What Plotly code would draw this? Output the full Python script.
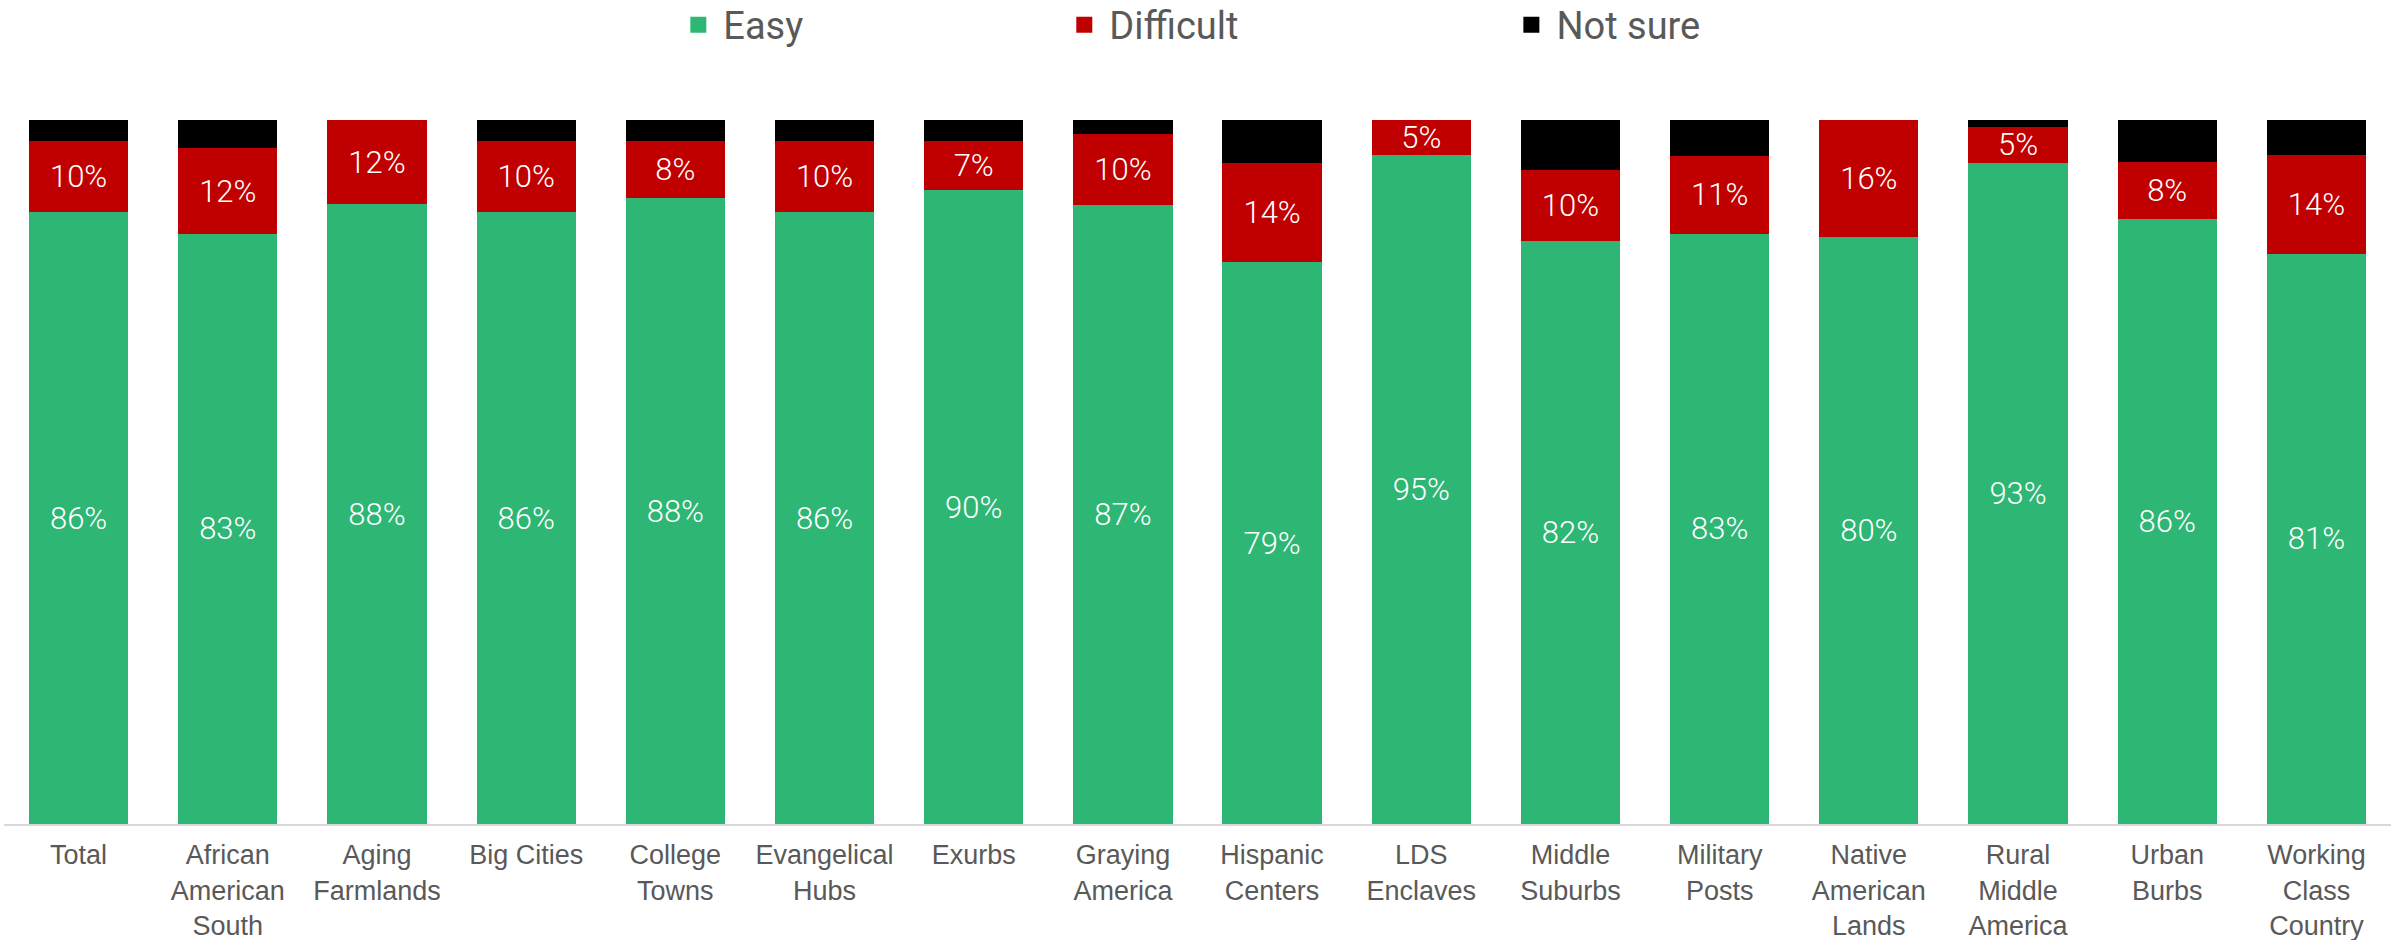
import plotly.graph_objects as go

categories = ["Total", "African<br>American<br>South", "Aging<br>Farmlands", "Big Cities",
              "College<br>Towns", "Evangelical<br>Hubs", "Exurbs", "Graying<br>America",
              "Hispanic<br>Centers", "LDS<br>Enclaves", "Middle<br>Suburbs", "Military<br>Posts",
              "Native<br>American<br>Lands", "Rural<br>Middle<br>America", "Urban<br>Burbs",
              "Working<br>Class<br>Country"]
easy = [86, 83, 88, 86, 88, 86, 90, 87, 79, 95, 82, 83, 80, 93, 86, 81]
difficult = [10, 12, 12, 10, 8, 10, 7, 10, 14, 5, 10, 11, 16, 5, 8, 14]
not_sure = [3, 4, 0, 3, 3, 3, 3, 2, 6, 0, 7, 5, 0, 1, 6, 5]

series = [("Easy", easy, "#2EB675", True),
          ("Difficult", difficult, "#C00000", True),
          ("Not sure", not_sure, "#000000", False)]
legend_ids = ["legend", "legend2", "legend3"]
legend_x = [0.2804, 0.4421, 0.6294]

fig = go.Figure()
for name, vals, color, show_text in series:
    fig.add_trace(go.Bar(
        x=categories, y=vals, name=name,
        marker=dict(color=color, line=dict(width=0)),
        text=[f"{v}%" for v in vals] if show_text else None,
        textposition="inside" if show_text else "none",
        insidetextanchor="middle",
        constraintext="none",
        textfont=dict(family="Roboto", size=31, color="white", weight=300),
        showlegend=False,
    ))
for (name, vals, color, show_text), lg in zip(series, legend_ids):
    # legend entry with a square swatch, one legend box per series
    fig.add_trace(go.Scatter(
        x=[None], y=[None], mode="markers", name=name,
        marker=dict(symbol="square", size=24, color=color),
        showlegend=True, legend=lg,
    ))

legend_style = dict(
    orientation="h", xanchor="left", y=1.135, yanchor="middle",
    font=dict(family="Roboto", size=38, color="#595959"),
    itemwidth=40, itemsizing="trace", bgcolor="rgba(0,0,0,0)",
)

fig.update_layout(
    width=2399, height=940,
    barmode="stack", barnorm="percent", bargap=0.335,
    plot_bgcolor="white", paper_bgcolor="white",
    margin=dict(l=4, r=8, t=120, b=116, autoexpand=False),
    legend=dict(x=legend_x[0], **legend_style),
    legend2=dict(x=legend_x[1], **legend_style),
    legend3=dict(x=legend_x[2], **legend_style),
    xaxis=dict(
        showline=True, linecolor="#D9D9D9", linewidth=2, automargin=False,
        tickfont=dict(family="Liberation Sans, Arial, sans-serif", size=27, color="#595959"),
        showgrid=False, ticks="", ticklabelstandoff=6,
    ),
    yaxis=dict(range=[0, 100], visible=False, showgrid=False, automargin=False),
)

fig.write_html("out.html", config={"displayModeBar": False},
               post_script="document.body.style.margin='0';document.body.style.overflow='hidden';")
